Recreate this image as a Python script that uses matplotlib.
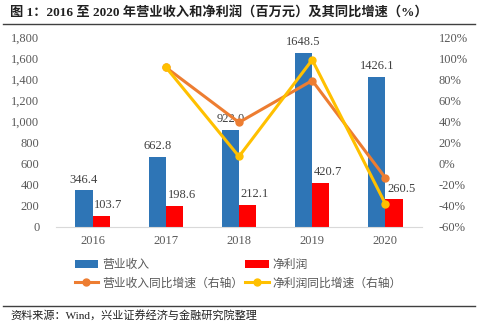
import numpy as np
import matplotlib
matplotlib.use('Agg')
import matplotlib.pyplot as plt
from matplotlib.lines import Line2D

plt.rcParams['font.family'] = ['Liberation Serif', 'Noto Sans CJK SC']

years = ['2016', '2017', '2018', '2019', '2020']
revenue = [346.4, 662.8, 922.0, 1648.5, 1426.1]
net_profit = [103.7, 198.6, 212.1, 420.7, 260.5]
# growth in %, read against the right axis
revenue_growth = [np.nan, 91.3, 39.1, 78.8, -13.5]
profit_growth = [np.nan, 91.5, 6.8, 98.4, -38.1]

blue = '#2E75B6'
red = '#FF0000'
orange = '#ED7D31'
yellow = '#FFC000'
tick_color = '#595959'

fig = plt.figure(figsize=(5.0, 3.28), dpi=100)
ax = fig.add_axes([0.112, 0.308, 0.732, 0.579])
ax2 = ax.twinx()

x = np.arange(len(years))
w = 0.235
b1 = ax.bar(x - w / 2, revenue, w, color=blue, label='营业收入')
b2 = ax.bar(x + w / 2, net_profit, w, color=red, label='净利润')

for xi, v in zip(x, revenue):
    ax.text(xi - w / 2, v + 45, f'{v:.1f}', ha='center', va='bottom',
            fontsize=9, color='#404040')
for xi, v in zip(x, net_profit):
    ax.text(xi + w / 2 + 0.1, v + 45, f'{v:.1f}', ha='center', va='bottom',
            fontsize=9, color='#404040')

l1, = ax2.plot(x, revenue_growth, color=orange, lw=2.2, marker='o', ms=5,
               label='营业收入同比增速（右轴）')
l2, = ax2.plot(x, profit_growth, color=yellow, lw=2.2, marker='o', ms=5,
               label='净利润同比增速（右轴）')

ax.set_xlim(-0.5, len(years) - 0.5)
ax.set_ylim(0, 1800)
ax.set_yticks(np.arange(0, 1801, 200))
ax.set_yticklabels([f'{v:,}' for v in range(0, 1801, 200)])
ax2.set_ylim(-60, 120)
ax2.set_yticks(np.arange(-60, 121, 20))
ax2.set_yticklabels([f'{v}%' for v in range(-60, 121, 20)])
ax.set_xticks(x)
ax.set_xticklabels(years)

for a in (ax, ax2):
    for s in a.spines.values():
        s.set_visible(False)
    a.tick_params(length=0, labelsize=9, colors=tick_color)
ax.spines['bottom'].set_visible(True)
ax.spines['bottom'].set_color('#D9D9D9')
ax.tick_params(axis='y', pad=12)
ax2.tick_params(axis='y', pad=12)
ax.tick_params(axis='x', pad=6)

leg_font = {'family': ['Noto Sans CJK SC'], 'size': 8.5}
# legend fills column by column: left column first, then right column
handles = [b1, l1, b2, l2]
labels = [h.get_label() for h in handles]
leg = fig.legend(handles, labels, ncol=2, loc='upper left',
                 bbox_to_anchor=(0.128, 0.245), frameon=False, prop=leg_font,
                 handlelength=2.0, columnspacing=0.2, handletextpad=0.3,
                 labelspacing=0.45)
for t in leg.get_texts():
    t.set_color(tick_color)

fig.text(0.02, 0.963, '图 1：2016 至 2020 年营业收入和净利润（百万元）及其同比增速（%）',
         fontsize=9.5, fontweight='bold', va='center', color='#202020')
fig.add_artist(Line2D([0.006, 0.95], [0.928, 0.928], color='#404040', lw=1.0))
fig.add_artist(Line2D([0.006, 0.95], [0.067, 0.067], color='#404040', lw=1.0))
fig.text(0.02, 0.04, '资料来源：Wind，兴业证券经济与金融研究院整理',
         fontsize=8, va='center', color='#202020')

fig.savefig('out.png', dpi=100)
